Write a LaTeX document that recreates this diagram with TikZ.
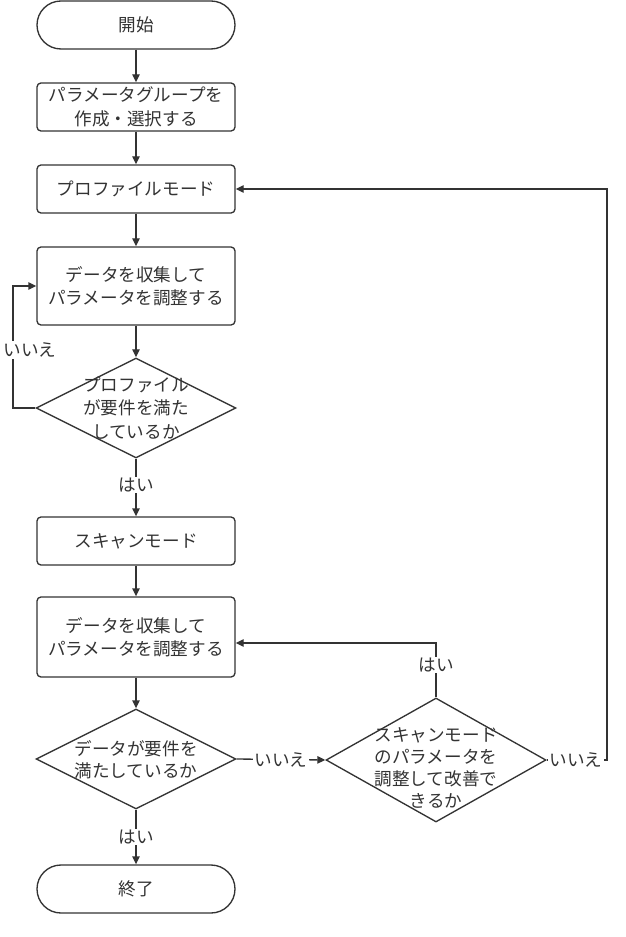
\documentclass[tikz,border=0pt]{standalone}
\usepackage{fontspec}
\setmainfont{Noto Sans CJK JP}
\usetikzlibrary{arrows.meta,shapes.geometric}
\newlength\px
\setlength\px{0.75pt}
\definecolor{ink}{HTML}{333333}
\tikzset{
  base/.style={draw=ink, line width=1pt, text=ink, font=\fontsize{13.2pt}{17.6pt}\selectfont, align=center, inner sep=0pt},
  termbox/.style={base, rectangle, rounded corners=24\px, minimum width=198\px, minimum height=48\px},
  procbox/.style={base, rectangle, rounded corners=4\px, minimum width=198\px, minimum height=48\px},
  conn/.style={draw=ink, line width=1pt, -{Triangle[length=6pt,width=5.5pt]}},
  edgelabel/.style={fill=white, text=ink, inner sep=1pt, font=\fontsize{13.2pt}{17.6pt}\selectfont}
}
\begin{document}
\begin{tikzpicture}[x=0.75pt,y=-0.75pt]
\useasboundingbox[fill=white] (0,0) rectangle (625,937);
\node[termbox] (start) at (136,25) {開始};
\node[procbox] (create) at (136,107) {パラメータグループを\\作成・選択する};
\node[procbox] (profile) at (136,189) {プロファイルモード};
\node[procbox, minimum height=78\px] (collect1) at (136,286) {データを収集して\\パラメータを調整する};
\node[base, diamond, minimum width=200\px, minimum height=100\px,
  label={[text=ink, align=center, font=\fontsize{13.2pt}{17.6pt}\selectfont]center:プロファイル\\が要件を満た\\しているか}] (check1) at (136,408) {};
\node[procbox] (scan) at (136,541) {スキャンモード};
\node[procbox, minimum height=80\px] (collect2) at (136,637) {データを収集して\\パラメータを調整する};
\node[base, diamond, minimum width=200\px, minimum height=100\px,
  label={[text=ink, align=center, yshift=-1\px, font=\fontsize{13.2pt}{16.5pt}\selectfont]center:データが要件を\\満たしているか}] (check2) at (136,759) {};
\node[base, diamond, minimum width=220\px, minimum height=124\px,
  label={[text=ink, align=center, yshift=-8\px, font=\fontsize{13.2pt}{16.5pt}\selectfont]center:スキャンモード\\のパラメータを\\調整して改善で\\きるか}] (check3) at (436,760) {};
\node[termbox] (stop) at (136,889) {終了};

\coordinate (loopL) at (13,408);
\coordinate (loopR) at (607,760);
\coordinate (yesUp) at (436,643);

\draw[conn] (start) -- (create);
\draw[conn] (create) -- (profile);
\draw[conn] (profile) -- (collect1);
\draw[conn] (collect1) -- (check1);
\draw[conn] (check1.west) -- (loopL) |- (collect1.west);
\draw[conn] (check1) -- (scan);
\draw[conn] (scan) -- (collect2);
\draw[conn] (collect2) -- (check2);
\draw[conn] (check2) -- (stop);
\draw[conn] (check2.east) -- (check3.west);
\draw[conn] (check3.north) -- (yesUp) -- (yesUp -| collect2.east);
\draw[conn] (check3.east) -- (loopR) |- (profile.east);

\node[edgelabel] (lno1) at (30,350) {いいえ};
\node[edgelabel] (lyes1) at (136,485) {はい};
\node[edgelabel] (lyes2) at (136,837) {はい};
\node[edgelabel] (lno2) at (281,760) {いいえ};
\node[edgelabel] (lyes3) at (436,665) {はい};
\node[edgelabel] (lno3) at (576,760) {いいえ};
\end{tikzpicture}
\end{document}
